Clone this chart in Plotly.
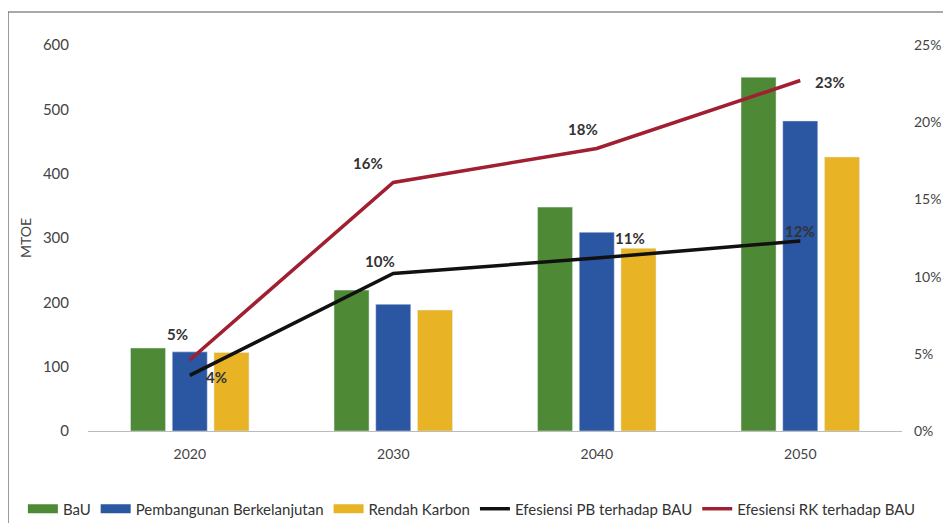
import plotly.graph_objects as go

years = ["2020", "2030", "2040", "2050"]
bau = [129, 219, 348, 550]
pb = [123, 197, 309, 482]
rk = [122, 188, 284, 426]
eff_pb = [0.036, 0.102, 0.112, 0.123]
eff_rk = [0.046, 0.161, 0.183, 0.227]

COL_BAU, COL_PB, COL_RK = "#4e8a35", "#2a56a2", "#e8b425"
COL_EPB, COL_ERK = "#111111", "#a01f30"
FONT = "Lato"

fig = go.Figure()
fig.add_bar(x=years, y=bau, name="BaU", marker_color=COL_BAU, showlegend=False, legendgroup="a")
fig.add_bar(x=years, y=pb, name="Pembangunan Berkelanjutan", marker_color=COL_PB, showlegend=False, legendgroup="b")
fig.add_bar(x=years, y=rk, name="Rendah Karbon", marker_color=COL_RK, showlegend=False, legendgroup="c")
# legend swatches (wide rectangles like the reference)
for nm, col, g in [("BaU", COL_BAU, "a"), ("Pembangunan Berkelanjutan", COL_PB, "b"), ("Rendah Karbon", COL_RK, "c")]:
    fig.add_scatter(x=[None], y=[None], name=nm, mode="lines", line=dict(color=col, width=9),
                    legendgroup=g, hoverinfo="skip")
fig.add_scatter(x=years, y=eff_pb, name="Efesiensi PB terhadap BAU", yaxis="y2",
                mode="lines", line=dict(color=COL_EPB, width=3.5))
fig.add_scatter(x=years, y=eff_rk, name="Efesiensi RK terhadap BAU", yaxis="y2",
                mode="lines", line=dict(color=COL_ERK, width=3.5))

# label offsets (px) relative to points
rk_off = [(-12, 26), (-25, 19), (-14, 19), (30, -1)]
pb_off = [(27, -2), (-13, 13), (33, 20), (0, 10)]
for i in range(len(years)):
    fig.add_annotation(x=i, y=eff_rk[i], yref="y2", text="<b>%d%%</b>" % round(eff_rk[i] * 100),
                       showarrow=False, xshift=rk_off[i][0], yshift=rk_off[i][1],
                       font=dict(family=FONT, size=15, color="#333333"))
    fig.add_annotation(x=i, y=eff_pb[i], yref="y2", text="<b>%d%%</b>" % round(eff_pb[i] * 100),
                       showarrow=False, xshift=pb_off[i][0], yshift=pb_off[i][1],
                       font=dict(family=FONT, size=15, color="#333333"))

fig.add_shape(type="rect", xref="paper", yref="paper", x0=-0.0983, x1=1.08, y0=-0.3, y1=1.0855,
              line=dict(color="#555555", width=1.2), fillcolor="rgba(0,0,0,0)", layer="below")

fig.update_layout(
    width=935, height=515,
    margin=dict(l=80, r=41, t=37, b=92, autoexpand=False),
    paper_bgcolor="white", plot_bgcolor="white",
    barmode="group", bargap=0.385, bargroupgap=0.16,
    font=dict(family=FONT, size=14, color="#444444"),
    showlegend=True,
    legend=dict(orientation="h", x=-0.08, y=-0.202, xanchor="left", yanchor="middle",
                font=dict(family=FONT, size=15, color="#333333"), traceorder="normal",
                itemwidth=30, tracegroupgap=0),
    xaxis=dict(type="category", range=[-0.5, 3.5], showgrid=False, showline=True,
               linecolor="#bbbbbb", linewidth=1, automargin=False,
               ticks="", tickfont=dict(size=14, color="#444444"), ticklabelstandoff=10),
    yaxis=dict(range=[0, 600], dtick=100, showgrid=False, zeroline=False, automargin=False,
               title=dict(text="MTOE", font=dict(size=14, color="#444444"), standoff=7),
               ticks="", tickfont=dict(size=15, color="#444444"), ticklabelstandoff=18),
    yaxis2=dict(range=[0, 0.25], dtick=0.05, tickformat=".0%", overlaying="y", side="right",
                showgrid=False, zeroline=False, ticks="", automargin=False,
                tickfont=dict(size=14, color="#444444"), ticklabelstandoff=11),
)

fig.write_html("out.html")
